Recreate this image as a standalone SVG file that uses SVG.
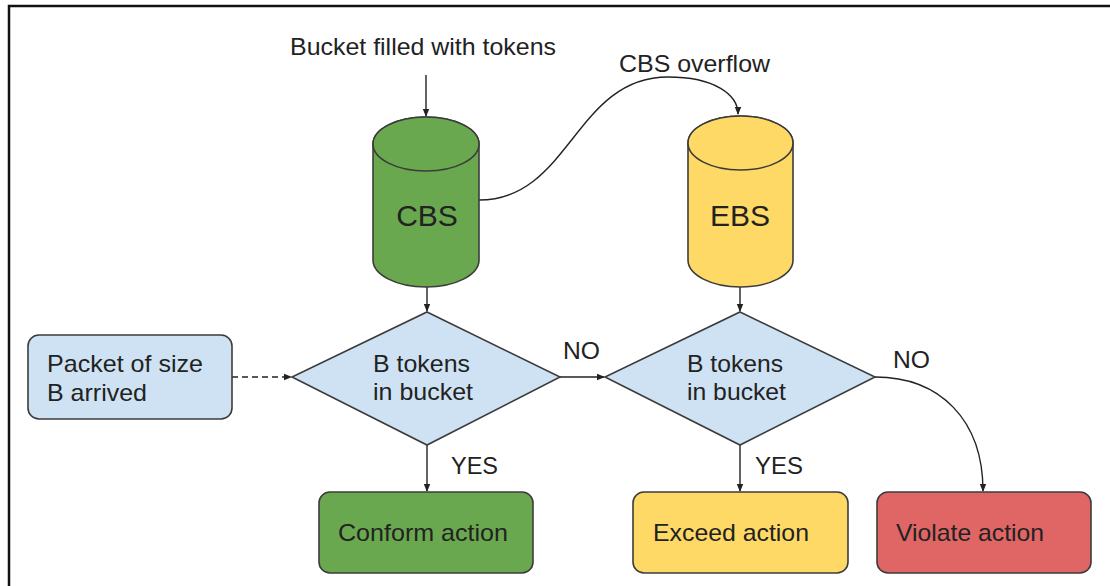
<svg xmlns="http://www.w3.org/2000/svg" width="1110" height="586" viewBox="0 0 1110 586">
  <defs>
    <marker id="arrow" viewBox="0 0 8 8" refX="7" refY="4" markerWidth="8" markerHeight="8" markerUnits="userSpaceOnUse" orient="auto">
      <path d="M0,0.8 L8,4 L0,7.2 Z" fill="#222"/>
    </marker>
    <style>
      text { font-family: "Liberation Sans", Arial, sans-serif; fill: #222; }
      .lbl { font-size: 24px; }
      .big { font-size: 30px; text-anchor: middle; }
      .edge { fill: none; stroke: #222; stroke-width: 1.4; marker-end: url(#arrow); }
      .shape { stroke: #3c3c3c; stroke-width: 1.6; }
      .green { fill: #6aa84f; }
      .yellow { fill: #ffd966; }
      .red { fill: #e06666; }
      .blue { fill: #cfe2f3; }
    </style>
  </defs>

  <rect width="1110" height="586" fill="#ffffff"/>
  <!-- outer frame -->
  <rect x="9" y="6" width="1200" height="700" fill="none" stroke="#111" stroke-width="2.5"/>

  <!-- connectors -->
  <g id="connectors">
    <path class="edge" d="M426,75 L426,116"/>
    <path class="edge" d="M479,200 C570,200 575,77 668,77 C715,77 738,95 738,114"/>
    <path class="edge" d="M427,287 L427,311"/>
    <path class="edge" d="M740,287 L740,311"/>
    <path class="edge" d="M232,377 L291,377" stroke-dasharray="6,4"/>
    <path class="edge" d="M560,377 L604,377"/>
    <path class="edge" d="M427,445 L427,491"/>
    <path class="edge" d="M740,445 L740,491"/>
    <path class="edge" d="M875,377 C940,377 983,420 983,491"/>
  </g>

  <!-- labels -->
  <g id="labels">
    <text class="lbl" x="290" y="55" textLength="266" lengthAdjust="spacingAndGlyphs">Bucket filled with tokens</text>
    <text class="lbl" x="619" y="72" textLength="151" lengthAdjust="spacingAndGlyphs">CBS overflow</text>
    <text class="lbl" x="563" y="359" textLength="37" lengthAdjust="spacingAndGlyphs">NO</text>
    <text class="lbl" x="893" y="368" textLength="37" lengthAdjust="spacingAndGlyphs">NO</text>
    <text class="lbl" x="451" y="474" textLength="47" lengthAdjust="spacingAndGlyphs">YES</text>
    <text class="lbl" x="755" y="474" textLength="48" lengthAdjust="spacingAndGlyphs">YES</text>
  </g>

  <!-- CBS bucket -->
  <g id="cbs">
    <path class="shape green" d="M373,144 L373,260 A53,27 0 0 0 479,260 L479,144 A53,27 0 0 0 373,144 Z"/>
    <ellipse class="shape green" cx="426" cy="144" rx="53" ry="27"/>
    <text class="big" x="427" y="226">CBS</text>
  </g>

  <!-- EBS bucket -->
  <g id="ebs">
    <path class="shape yellow" d="M688,143 L688,260 A52.5,27 0 0 0 793,260 L793,143 A52.5,27 0 0 0 688,143 Z"/>
    <ellipse class="shape yellow" cx="740.5" cy="143" rx="52.5" ry="27"/>
    <text class="big" x="740" y="226">EBS</text>
  </g>

  <!-- incoming packet -->
  <g id="packet">
    <rect class="shape blue" x="28" y="335" width="204" height="84" rx="11"/>
    <text class="lbl" x="47" y="372" textLength="156" lengthAdjust="spacingAndGlyphs">Packet of size</text>
    <text class="lbl" x="47" y="401" textLength="100" lengthAdjust="spacingAndGlyphs">B arrived</text>
  </g>

  <!-- CBS check -->
  <g id="decision-cbs">
    <polygon class="shape blue" points="427,312 560,377 427,445 292,377"/>
    <text class="lbl" x="373" y="372" textLength="97" lengthAdjust="spacingAndGlyphs">B tokens</text>
    <text class="lbl" x="373" y="400" textLength="100" lengthAdjust="spacingAndGlyphs">in bucket</text>
  </g>

  <!-- EBS check -->
  <g id="decision-ebs">
    <polygon class="shape blue" points="740,312 875,377 740,445 605,377"/>
    <text class="lbl" x="687" y="372" textLength="96" lengthAdjust="spacingAndGlyphs">B tokens</text>
    <text class="lbl" x="687" y="400" textLength="99" lengthAdjust="spacingAndGlyphs">in bucket</text>
  </g>

  <!-- actions -->
  <g id="conform">
    <rect class="shape green" x="319" y="492" width="214" height="81" rx="11"/>
    <text class="lbl" x="338" y="541" textLength="170" lengthAdjust="spacingAndGlyphs">Conform action</text>
  </g>
  <g id="exceed">
    <rect class="shape yellow" x="633" y="492" width="215" height="81" rx="11"/>
    <text class="lbl" x="653" y="541" textLength="156" lengthAdjust="spacingAndGlyphs">Exceed action</text>
  </g>
  <g id="violate">
    <rect class="shape red" x="877" y="492" width="214" height="81" rx="11"/>
    <text class="lbl" x="896" y="541" textLength="148" lengthAdjust="spacingAndGlyphs">Violate action</text>
  </g>
</svg>
